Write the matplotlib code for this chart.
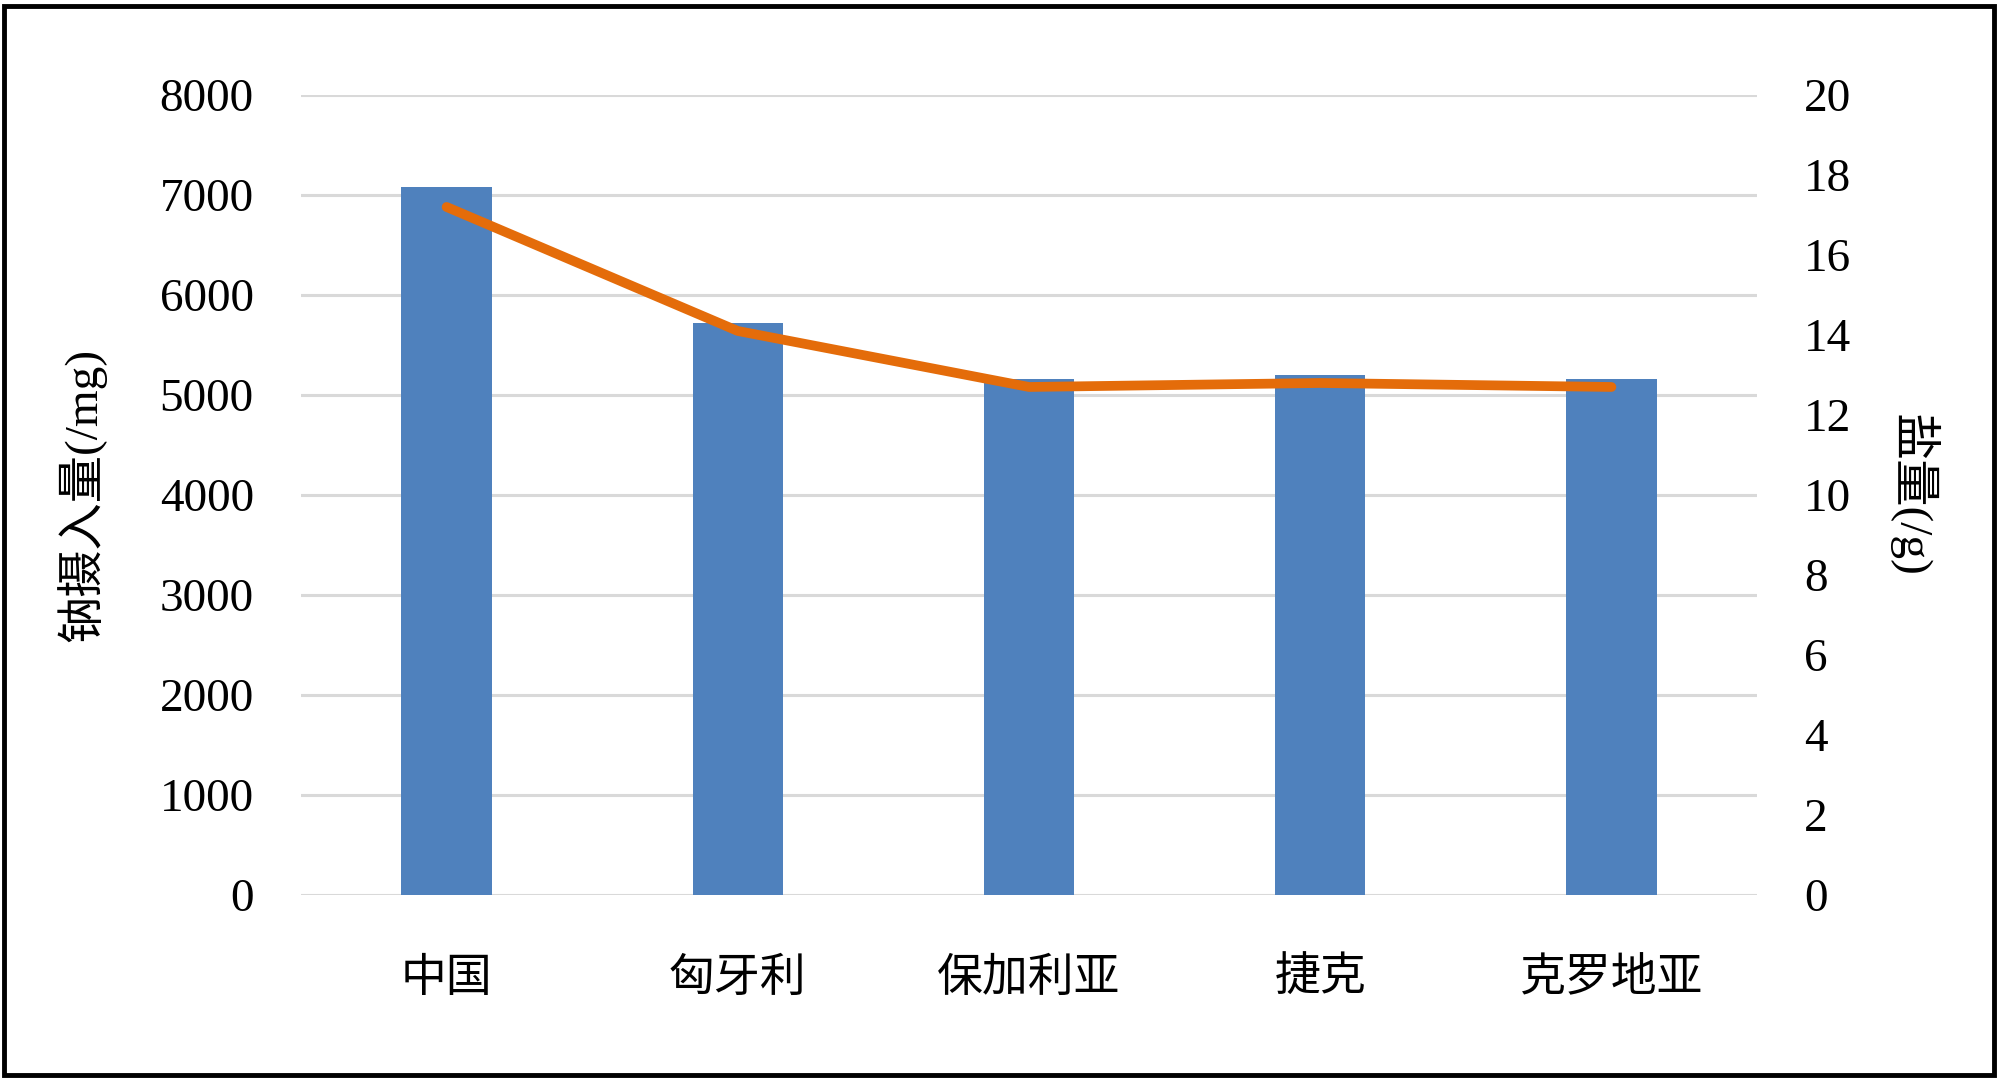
import matplotlib.pyplot as plt
import matplotlib.patches as patches
import numpy as np

plt.rcParams['font.family'] = ['Liberation Serif', 'Noto Sans CJK SC']

countries = ['中国', '匈牙利', '保加利亚', '捷克', '克罗地亚']
sodium = [7080, 5720, 5160, 5200, 5160]   # mg
salt = [17.2, 14.1, 12.7, 12.8, 12.7]      # g

fig = plt.figure(figsize=(20, 10.79), dpi=100)
ax = fig.add_axes([0.1505, 0.1705, 0.728, 0.7415])
x = np.arange(len(countries))

ax.bar(x, sodium, width=0.31, color='#4F81BD', zorder=2)
ax.set_xlim(-0.5, len(countries) - 0.5)
ax.set_ylim(0, 8000)
ax.set_yticks(range(0, 8001, 1000))
ax.yaxis.grid(True, color='#D9D9D9', linewidth=2.2, zorder=0)
ax.set_axisbelow(True)
for s in ax.spines.values():
    s.set_visible(False)
ax.tick_params(axis='both', length=0, labelsize=34)
ax.tick_params(axis='y', pad=34)
ax.tick_params(axis='x', pad=42)
ax.set_xticks(x)
ax.set_xticklabels(countries, fontfamily='Noto Sans CJK SC', fontsize=33)
ax.set_ylabel('钠摄入量(/mg)', fontsize=34, labelpad=38)

ax2 = ax.twinx()
ax2.plot(x, salt, color='#E46C0A', linewidth=7, solid_capstyle='round', solid_joinstyle='round', zorder=3)
ax2.set_ylim(0, 20)
ax2.set_yticks(range(0, 21, 2))
for s in ax2.spines.values():
    s.set_visible(False)
ax2.tick_params(axis='y', length=0, labelsize=34, pad=34)
ax2.set_ylabel('盐量(/g)', fontsize=34, rotation=270, labelpad=62)

# frame around the whole picture
fig.patches.append(patches.Rectangle((0.002, 0.004), 0.995, 0.99, transform=fig.transFigure,
                                     fill=False, edgecolor='black', linewidth=3.5))

fig.savefig('out.png', dpi=100)
